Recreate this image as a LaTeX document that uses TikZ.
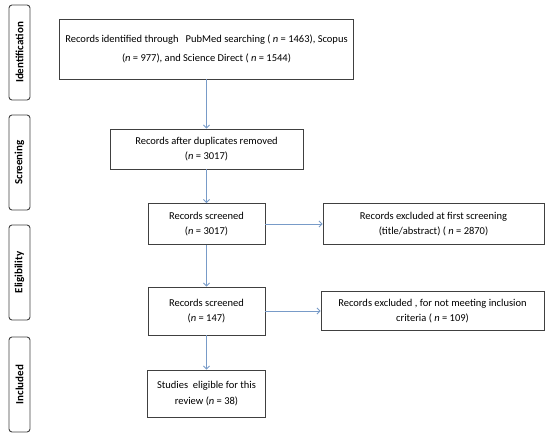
\documentclass[tikz,border=0pt]{standalone}
\usepackage{fontspec}
\setmainfont{Carlito}
\usetikzlibrary{arrows.meta}
\definecolor{arrowblue}{RGB}{120,155,200}
\definecolor{boxgray}{RGB}{64,64,64}

\begin{document}
\begin{tikzpicture}[x=1pt,y=-1pt,
        box/.style={draw=boxgray,line width=0.9pt,align=center,inner sep=2pt,font=\fontsize{10.5}{15.5}\selectfont},
        phase/.style={draw=boxgray,line width=0.9pt,rounded corners=3pt,minimum width=95pt,minimum height=21pt,rotate=90,inner sep=0pt,font=\bfseries\fontsize{11}{13}\selectfont},
        flow/.style={draw=arrowblue,line width=0.8pt,-{Straight Barb[length=3pt,width=6pt]}}]
        \useasboundingbox (0,0) rectangle (550,439);
        % phases on the left
        \node[phase] (identification) at (19.5,52.5) {Identification};
        \node[phase] (screening) at (19.5,162.5) {Screening};
        \node[phase] (eligibility) at (19.5,272.5) {Eligibility};
        \node[phase] (included) at (19.5,384.5) {Included};
        % main column
        \node[box,minimum width=294pt,minimum height=60pt] (records) at (206.5,49) {Records identified through\ \ \ PubMed searching ( \textit{n} = 1463), Scopus\\[4pt] (\textit{n} = 977), and Science Direct ( \textit{n} = 1544)};
        \node[box,minimum width=193pt,minimum height=40pt] (duplicates) at (206.5,149) {Records after duplicates removed\\ (\textit{n} = 3017)};
        \node[box,minimum width=117pt,minimum height=41pt] (screened) at (206.5,224) {Records screened\\ (\textit{n} = 3017)};
        \node[box,minimum width=117pt,minimum height=48pt] (fulltext) at (206.5,311) {Records screened\\ (\textit{n} = 147)};
        \node[box,minimum width=118pt,minimum height=47pt] (eligible) at (206.5,393.5) {Studies\ \ eligible for this\\ review (\textit{n} = 38)};
        % exclusions
        \node[box,minimum width=221pt,minimum height=41pt] (excluded) at (433.5,224) {Records excluded at first screening\\ (title/abstract) ( \textit{n} = 2870)};
        \node[box,minimum width=223pt,minimum height=39pt] (notmet) at (432.5,311) {Records excluded , for not meeting inclusion\\ criteria ( \textit{n} = 109)};
        % arrows
        \draw[flow] (records) -- (duplicates);
        \draw[flow] (duplicates) -- (screened);
        \draw[flow] (screened) -- (fulltext);
        \draw[flow] (fulltext) -- (eligible);
        \draw[flow] (screened) -- (excluded);
        \draw[flow] (fulltext) -- (notmet);
\end{tikzpicture}
\end{document}
